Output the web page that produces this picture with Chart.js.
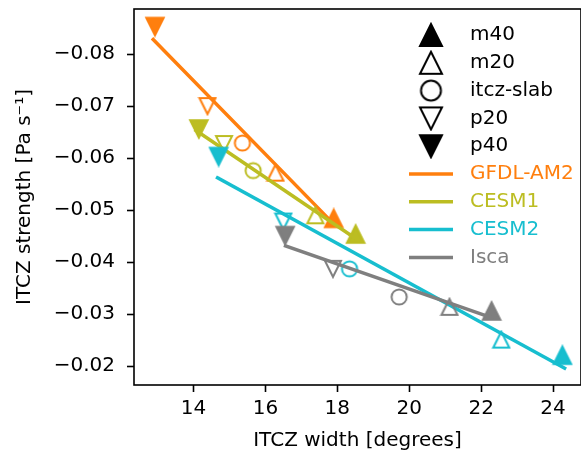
<!DOCTYPE html>
<html>
<head>
<meta charset="utf-8">
<script src="https://cdn.jsdelivr.net/npm/chart.js@4.4.1/dist/chart.umd.min.js"></script>
<style>
html,body{margin:0;padding:0;overflow:hidden;background:#fff;}
</style>
</head>
<body>
<canvas id="grafico" width="590" height="455"></canvas>
<script>
// dados
var experimentos=['m40','m20','itcz-slab','p20','p40'];
var modelos=['GFDL-AM2','CESM1','CESM2','Isca'];
var xTicks=[14,16,18,20,22,24];
var yTicks=[-0.08,-0.07,-0.06,-0.05,-0.04,-0.03,-0.02];

// largura / intensidade por experimento (m40, m20, itcz-slab, p20, p40)
var gfdlLargura=[17.90,16.28,15.36,14.39,12.93];
var gfdlIntens=[-0.0484,-0.0572,-0.0629,-0.0700,-0.0853];
var cesm1Largura=[18.51,17.39,15.66,14.85,14.15];
var cesm1Intens=[-0.0454,-0.0490,-0.0576,-0.0627,-0.0656];
var cesm2Largura=[24.26,22.56,18.34,16.50,14.70];
var cesm2Intens=[-0.0221,-0.0251,-0.0387,-0.0478,-0.0603];
var iscaLargura=[22.29,21.12,19.72,17.88,16.55];
var iscaIntens=[-0.0306,-0.0314,-0.0333,-0.0387,-0.0451];

// retas de ajuste (inicio, fim)
var gfdlAjusteX=[12.88,17.89];
var gfdlAjusteY=[-0.0828,-0.0474];
var cesm1AjusteX=[14.07,18.58];
var cesm1AjusteY=[-0.0653,-0.0442];
var cesm2AjusteX=[14.67,24.32];
var cesm2AjusteY=[-0.0562,-0.0196];
var iscaAjusteX=[16.56,22.30];
var iscaAjusteY=[-0.0431,-0.0293];

var cores=['#ff7f0e','#bcbd22','#17becf','#7f7f7f'];
var formas=[['^',true],['^',false],['o',false],['v',false],['v',true]];

function marcador(tipo,cheio,cor,tam,lw){
    var c=document.createElement('canvas');
    var d=Math.ceil(tam+lw+2);
    c.width=d;c.height=d;
    var ctx=c.getContext('2d');
    var m=d/2,h=tam/2;
    ctx.beginPath();
    if (tipo=='o'){
        ctx.arc(m,m,h*0.95,0,Math.PI*2);
    } else if (tipo=='^'){
        ctx.moveTo(m,m-h);ctx.lineTo(m-h,m+h);ctx.lineTo(m+h,m+h);ctx.closePath();
    } else {
        ctx.moveTo(m,m+h);ctx.lineTo(m-h,m-h);ctx.lineTo(m+h,m-h);ctx.closePath();
    }
    if (cheio){ctx.fillStyle=cor;ctx.fill();}
    ctx.lineWidth=lw;ctx.strokeStyle=cor;ctx.stroke();
    return c;
}

function pontos(xs,ys){
    var out=[];
    for (var i=0;i<xs.length;i++){out.push({x:xs[i],y:ys[i]});}
    return out;
}

var larguras=[gfdlLargura,cesm1Largura,cesm2Largura,iscaLargura];
var intensidades=[gfdlIntens,cesm1Intens,cesm2Intens,iscaIntens];
var ajustesX=[gfdlAjusteX,cesm1AjusteX,cesm2AjusteX,iscaAjusteX];
var ajustesY=[gfdlAjusteY,cesm1AjusteY,cesm2AjusteY,iscaAjusteY];

var datasets=[];
var k=0;
for (var i=0;i<modelos.length;i++){
    var estilos=[];
    for (var j=0;j<formas.length;j++){
        estilos.push(marcador(formas[j][0],formas[j][1],cores[i],formas[j][1]?17.5:16,2));
    }
    datasets.push({
        label:modelos[i]+' pontos',
        data:pontos(larguras[i],intensidades[i]),
        pointStyle:estilos,
        pointRadius:8,
        pointHoverRadius:8,
        showLine:false,
        order:100-(k++)
    });
    datasets.push({
        type:'line',
        label:modelos[i],
        data:pontos(ajustesX[i],ajustesY[i]),
        borderColor:cores[i],
        borderWidth:3.5,
        borderCapStyle:'square',
        pointRadius:0,
        fill:false,
        order:100-(k++)
    });
}

// moldura dos eixos
var moldura={
    id:'moldura',
    afterDatasetsDraw:function(chart){
        var a=chart.chartArea,ctx=chart.ctx;
        ctx.save();
        ctx.lineWidth=1.6;
        ctx.strokeStyle='#000';
        ctx.strokeRect(a.left,a.top,a.right-a.left,a.bottom-a.top);
        ctx.restore();
    }
};

// legenda no canto superior direito
var legenda={
    id:'legenda',
    afterDraw:function(chart){
        var ctx=chart.ctx;
        ctx.save();
        ctx.font='20px "DejaVu Sans"';
        ctx.textBaseline='middle';
        ctx.textAlign='left';
        var y=35,passo=27.8;
        for (var j=0;j<experimentos.length;j++){
            var f=formas[j];
            var mk=marcador(f[0],f[1],'#000',f[0]=='o'?21:22,2);
            ctx.drawImage(mk,431-mk.width/2,y-mk.height/2);
            ctx.fillStyle='#000';
            ctx.fillText(experimentos[j],470,y);
            y+=passo;
        }
        for (var i=0;i<modelos.length;i++){
            ctx.beginPath();
            ctx.moveTo(409,y);ctx.lineTo(453,y);
            ctx.lineWidth=3.5;ctx.strokeStyle=cores[i];
            ctx.stroke();
            ctx.fillStyle=cores[i];
            ctx.fillText(modelos[i],470,y);
            y+=passo;
        }
        ctx.restore();
    }
};

Chart.defaults.font.family='"DejaVu Sans"';
Chart.defaults.font.size=20;
Chart.defaults.color='#000';

var ctx=document.getElementById('grafico').getContext('2d');
var g=new Chart(ctx,{
    type:'scatter',
    data:{datasets:datasets},
    options:{
        responsive:false,
        animation:false,
        devicePixelRatio:1,
        layout:{padding:{top:7,right:5,left:0,bottom:0}},
        plugins:{legend:{display:false},tooltip:{enabled:false}},
        scales:{
            x:{
                type:'linear',
                min:12.346,
                max:24.777,
                afterBuildTicks:function(s){s.ticks=xTicks.map(function(v){return {value:v};});},
                afterFit:function(s){s.height=70;s.paddingLeft=0;s.paddingRight=0;},
                ticks:{padding:5,callback:function(v){return String(v);}},
                grid:{drawOnChartArea:false,drawTicks:true,tickLength:7,tickWidth:1.6,tickColor:'#000'},
                border:{display:false},
                title:{display:true,text:'ITCZ width [degrees]',padding:{top:0,bottom:2}}
            },
            y:{
                type:'linear',
                reverse:true,
                min:-0.08867,
                max:-0.01637,
                afterBuildTicks:function(s){s.ticks=yTicks.map(function(v){return {value:v};});},
                afterFit:function(s){s.width=134;s.paddingTop=0;s.paddingBottom=0;},
                ticks:{padding:12,callback:function(v){return '\u2212'+Math.abs(v).toFixed(2);}},
                grid:{drawOnChartArea:false,drawTicks:true,tickLength:7,tickWidth:1.6,tickColor:'#000'},
                border:{display:false},
                title:{display:true,text:'ITCZ strength [Pa s\u207B\u00B9]',padding:{top:13,bottom:0}}
            }
        }
    },
    plugins:[moldura,legenda]
});
</script>
</body>
</html>
